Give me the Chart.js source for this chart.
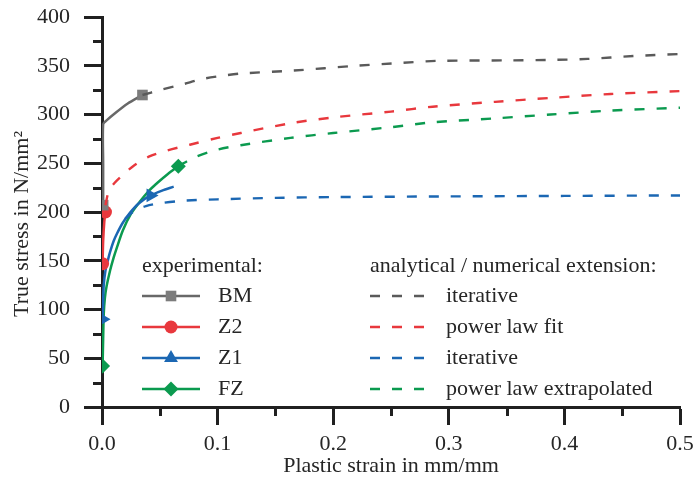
<!DOCTYPE html>
<html>
<head>
<meta charset="utf-8">
<script src="https://cdn.jsdelivr.net/npm/chart.js@4/dist/chart.umd.min.js"></script>
<style>
  html, body { margin: 0; padding: 0; background: #ffffff; }
  #wrap { width: 696px; height: 482px; }
</style>
</head>
<body>
<div id="wrap"><canvas id="chart" width="696" height="482"></canvas></div>
<script>
// ---- measured curves (plastic strain in mm/mm, true stress in N/mm²) ----
// experimental
const bmStrain = [0.001, 0.001, 0.001, 0.004, 0.011, 0.022, 0.035];
const bmStress = [207, 250, 290, 294, 301, 311, 320];
const z2Strain = [0.0005, 0.001, 0.002, 0.003, 0.0035];
const z2Stress = [147, 170, 190, 200, 206];
const z1Strain = [0.0005, 0.001, 0.0015, 0.003, 0.005, 0.007, 0.01, 0.013, 0.018, 0.024, 0.032, 0.042, 0.052, 0.062];
const z1Stress = [90, 110, 125, 140, 150, 159, 170, 178, 189, 199, 209, 217, 222, 226];
const fzStrain = [0.0005, 0.001, 0.0015, 0.0025, 0.004, 0.007, 0.01, 0.013, 0.018, 0.025, 0.033, 0.04, 0.048, 0.057, 0.066];
const fzStress = [42, 70, 95, 112, 124, 140, 153, 164, 181, 198, 211, 221, 230, 239, 247];

// analytical / numerical extension
const bmExtStrain = [0.035, 0.05, 0.07, 0.085, 0.1, 0.12, 0.165, 0.22, 0.26, 0.29, 0.35, 0.39, 0.42, 0.46, 0.5];
const bmExtStress = [320, 325, 331, 336, 339, 342, 345, 350, 353, 355, 355.5, 356, 357, 360, 362];
const z2ExtStrain = [0.003, 0.006, 0.011, 0.017, 0.028, 0.041, 0.056, 0.076, 0.1, 0.12, 0.163, 0.2, 0.25, 0.286, 0.34, 0.388, 0.44, 0.5];
const z2ExtStress = [207, 222, 230, 237, 248, 257, 263, 269, 276, 281, 291, 297, 303, 308, 313, 317, 321, 324];
const z1ExtStrain = [0.02, 0.028, 0.038, 0.05, 0.07, 0.1, 0.15, 0.2, 0.3, 0.4, 0.5];
const z1ExtStress = [193, 201, 206, 209, 211.5, 213, 214.5, 215.3, 216, 216.5, 217];
const fzExtStrain = [0.066, 0.08, 0.1, 0.12, 0.163, 0.2, 0.25, 0.286, 0.34, 0.388, 0.44, 0.5];
const fzExtStress = [247, 256, 264, 268.5, 276, 281, 287, 292, 296, 300, 304, 307];

// axis ticks
const xTicks = [0, 0.1, 0.2, 0.3, 0.4, 0.5];
const yTicks = [0, 50, 100, 150, 200, 250, 300, 350, 400];

// legend texts
const expTitle = 'experimental:';
const expNames = ['BM', 'Z2', 'Z1', 'FZ'];
const extTitle = 'analytical / numerical extension:';
const extNames = ['iterative', 'power law fit', 'iterative', 'power law extrapolated'];
const xTitle = 'Plastic strain in mm/mm';
const yTitle = 'True stress in N/mm\u00B2';

// ---- styling ----
const FONT = "'Liberation Serif', 'Times New Roman', serif";
const TEXT = '#262626';
const AXIS = '#202020';
const COL = {
  bm: '#686868', bmMark: '#7c7c7c', bmDash: '#5a5a5a',
  z2: '#e8383d', z1: '#1b67b3', fz: '#0b9a4f'
};
const DASH = [10, 12];

const pts = (xs, ys) => xs.map((x, i) => ({ x, y: ys[i] }));

function expSet(label, xs, ys, color, markColor, style, radius, marks, rot) {
  return {
    label, data: pts(xs, ys),
    borderColor: color, backgroundColor: markColor,
    borderWidth: 2.5, showLine: true, tension: 0.25,
    pointStyle: style, pointRotation: rot || 0,
    pointBorderWidth: 0, pointBackgroundColor: markColor,
    legendRadius: radius,
    pointRadius: ctx => marks.includes(ctx.dataIndex) ? radius : 0,
    pointHoverRadius: 0
  };
}
function extSet(label, xs, ys, color) {
  return {
    label, data: pts(xs, ys),
    borderColor: color, borderWidth: 2.4, borderDash: DASH,
    showLine: true, tension: 0.3, pointRadius: 0, pointHoverRadius: 0
  };
}

const datasets = [
  extSet('BM ext', bmExtStrain, bmExtStress, COL.bmDash),
  extSet('Z2 ext', z2ExtStrain, z2ExtStress, COL.z2),
  extSet('Z1 ext', z1ExtStrain, z1ExtStress, COL.z1),
  extSet('FZ ext', fzExtStrain, fzExtStress, COL.fz),
  expSet('BM', bmStrain, bmStress, COL.bm, COL.bmMark, 'rect', 7.5, [0, 6]),
  expSet('Z2', z2Strain, z2Stress, COL.z2, COL.z2, 'circle', 6.5, [0, 3]),
  expSet('Z1', z1Strain, z1Stress, COL.z1, COL.z1, 'triangle', 8, [0, 11], -30),
  expSet('FZ', fzStrain, fzStress, COL.fz, COL.fz, 'rectRot', 7.5, [0, 14])
];

// minor ticks between the labelled ones
const minorTicks = {
  id: 'minorTicks',
  beforeDatasetsDraw(chart) {
    const { ctx, chartArea: a, scales: { x, y } } = chart;
    ctx.save();
    ctx.strokeStyle = AXIS; ctx.lineWidth = 3;
    ctx.beginPath();
    for (let i = 0; i < yTicks.length - 1; i++) {
      const py = Math.round(y.getPixelForValue((yTicks[i] + yTicks[i + 1]) / 2)) + 0.5;
      ctx.moveTo(a.left - 9, py); ctx.lineTo(a.left, py);
    }
    for (let i = 0; i < xTicks.length - 1; i++) {
      const px = Math.round(x.getPixelForValue((xTicks[i] + xTicks[i + 1]) / 2)) + 0.5;
      ctx.moveTo(px, a.bottom); ctx.lineTo(px, a.bottom + 9);
    }
    ctx.stroke();
    ctx.restore();
  }
};

// two-column legend inside the plot and the axis titles
const legendAndTitles = {
  id: 'legendAndTitles',
  afterDraw(chart) {
    const { ctx, chartArea: a } = chart;
    ctx.save();
    ctx.font = '22px ' + FONT;
    ctx.fillStyle = TEXT;
    ctx.textBaseline = 'middle';
    ctx.textAlign = 'left';

    const rows = [296, 327, 358, 389];
    const expSets = datasets.slice(4);
    const extSets = datasets.slice(0, 4);

    ctx.fillText(expTitle, 142, 266);
    ctx.fillText(extTitle, 370, 266);

    rows.forEach((ry, i) => {
      const d = expSets[i];
      ctx.strokeStyle = d.borderColor; ctx.lineWidth = 2.5; ctx.setLineDash([]);
      ctx.beginPath(); ctx.moveTo(142, ry); ctx.lineTo(200, ry); ctx.stroke();
      ctx.fillStyle = d.pointBackgroundColor;
      Chart.helpers.drawPoint(ctx, {
        pointStyle: d.pointStyle, radius: d.legendRadius, rotation: 0, borderWidth: 0
      }, 171, ry);
      ctx.fillStyle = TEXT;
      ctx.fillText(expNames[i], 218, ry);

      const e = extSets[i];
      ctx.strokeStyle = e.borderColor; ctx.lineWidth = 2.4; ctx.setLineDash(DASH);
      ctx.beginPath(); ctx.moveTo(370, ry); ctx.lineTo(426, ry); ctx.stroke();
      ctx.setLineDash([]);
      ctx.fillText(extNames[i], 446, ry);
    });

    // axis titles
    ctx.textAlign = 'center';
    ctx.fillText(xTitle, (a.left + a.right) / 2, 466);
    ctx.translate(22, 224);
    ctx.rotate(-Math.PI / 2);
    ctx.fillText(yTitle, 0, 0);
    ctx.restore();
  }
};

Chart.defaults.font.family = FONT;
Chart.defaults.color = TEXT;

new Chart(document.getElementById('chart'), {
  type: 'scatter',
  data: { datasets },
  options: {
    responsive: false,
    animation: false,
    devicePixelRatio: 1,
    layout: { padding: { top: 17, right: 16, left: 0, bottom: 0 } },
    plugins: { legend: { display: false }, tooltip: { enabled: false } },
    scales: {
      x: {
        type: 'linear', min: xTicks[0], max: xTicks[xTicks.length - 1],
        afterFit: s => { s.height = 75; s.paddingLeft = 0; s.paddingRight = 0; },
        afterBuildTicks: s => { s.ticks = xTicks.map(v => ({ value: v })); },
        ticks: {
          callback: v => Number(v).toFixed(1),
          font: { size: 22 }, color: TEXT, padding: 6, maxRotation: 0, autoSkip: false
        },
        grid: { display: true, drawOnChartArea: false, drawTicks: true, tickLength: 18, tickWidth: 3, tickColor: AXIS },
        border: { display: true, color: AXIS, width: 3 }
      },
      y: {
        type: 'linear', min: yTicks[0], max: yTicks[yTicks.length - 1],
        afterFit: s => { s.width = 102; s.paddingTop = 0; s.paddingBottom = 0; },
        afterBuildTicks: s => { s.ticks = yTicks.map(v => ({ value: v })); },
        ticks: { font: { size: 22 }, color: TEXT, padding: 14, autoSkip: false },
        grid: { display: true, drawOnChartArea: false, drawTicks: true, tickLength: 18, tickWidth: 3, tickColor: AXIS },
        border: { display: true, color: AXIS, width: 3 }
      }
    }
  },
  plugins: [minorTicks, legendAndTitles]
});
</script>
</body>
</html>
